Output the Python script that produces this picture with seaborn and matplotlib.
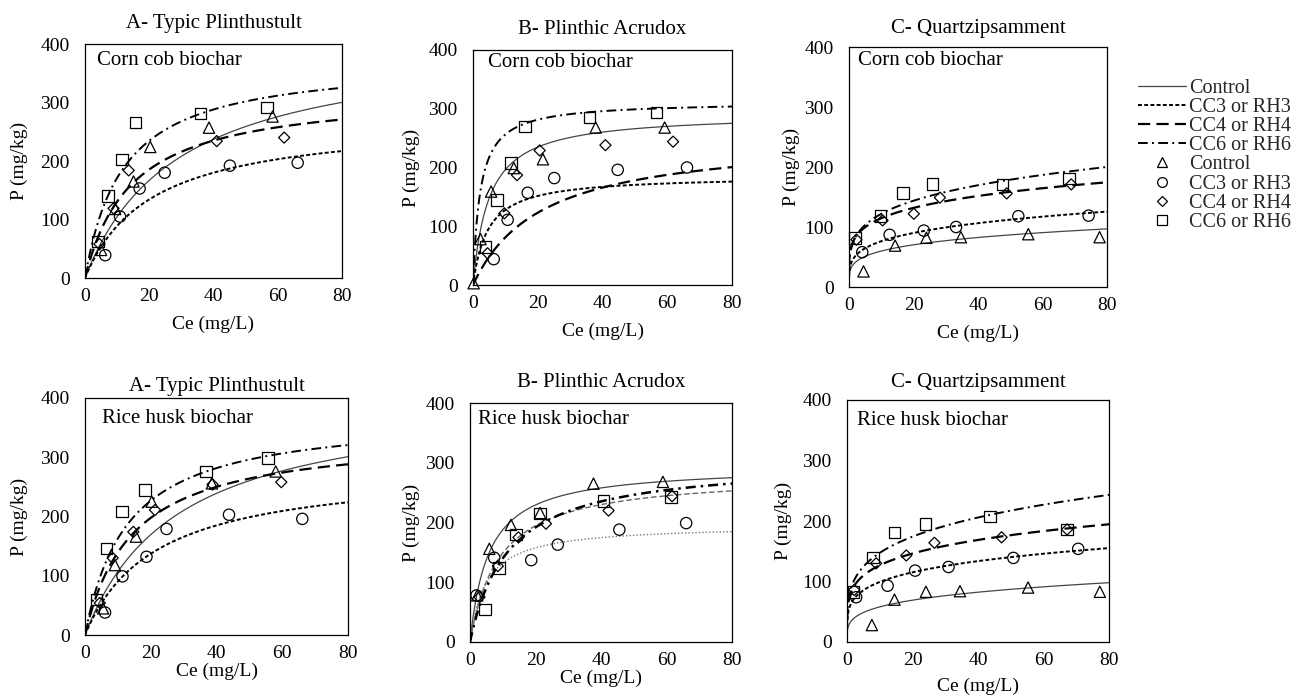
import numpy as np
import pandas as pd
import matplotlib
matplotlib.use("Agg")
import matplotlib.pyplot as plt
from matplotlib.lines import Line2D
import seaborn as sns

sns.set_theme(style="white")
plt.rcParams['font.family'] = ['Liberation Serif', 'DejaVu Serif']

# ---------------- data ----------------
treatments = ["Control", "CC3 or RH3", "CC4 or RH4", "CC6 or RH6"]
xticks = [0, 20, 40, 60, 80]
yticks = [0, 100, 200, 300, 400]

# A - Typic Plinthustult, corn cob biochar (observed points)
A_cc_ce = {"Control": [5, 9.4, 15.1, 20.3, 38.6, 58.4],
           "CC3 or RH3": [6.3, 10.9, 17, 24.8, 45.1, 66.2],
           "CC4 or RH4": [4.5, 8.9, 13.6, 41, 62],
           "CC6 or RH6": [4, 7.1, 11.5, 15.8, 36, 56.6]}
A_cc_p = {"Control": [48, 118, 165, 224, 257, 276],
          "CC3 or RH3": [39, 105, 153, 180, 192, 197],
          "CC4 or RH4": [58, 119, 184, 234, 240],
          "CC6 or RH6": [62, 140, 203, 266, 281, 291]}
# B - Plinthic Acrudox, corn cob biochar
B_cc_ce = {"Control": [0.2, 2.3, 5.6, 12.6, 21.6, 37.9, 59.2],
           "CC3 or RH3": [6.4, 10.7, 16.9, 25.1, 44.7, 66.1],
           "CC4 or RH4": [4.5, 9.7, 13.6, 20.6, 40.9, 61.8],
           "CC6 or RH6": [3.8, 7.4, 11.8, 16, 36, 56.6]}
B_cc_p = {"Control": [3, 78, 159, 199, 214, 268, 268],
          "CC3 or RH3": [44, 111, 157, 182, 196, 200],
          "CC4 or RH4": [54, 122, 187, 229, 238, 244],
          "CC6 or RH6": [65, 145, 208, 270, 285, 294]}
# C - Quartzipsamment, corn cob biochar
C_cc_ce = {"Control": [4.5, 14.3, 24, 34.7, 55.6, 77.7],
           "CC3 or RH3": [4.1, 12.6, 23.2, 33.2, 52.5, 74.3],
           "CC4 or RH4": [2.3, 10.4, 20.1, 28.2, 48.9, 68.9],
           "CC6 or RH6": [1.8, 9.7, 16.8, 25.9, 47.6, 68.2]}
C_cc_p = {"Control": [26, 69, 82, 83, 88, 83],
          "CC3 or RH3": [58, 87, 94, 100, 118, 119],
          "CC4 or RH4": [79, 111, 122, 149, 156, 171],
          "CC6 or RH6": [82, 118, 157, 172, 171, 181]}
# A - rice husk biochar
A_rh_ce = {"Control": [5.5, 9.1, 15.5, 20.3, 38.6, 58],
           "CC3 or RH3": [6.1, 11.4, 18.7, 24.8, 43.8, 66.1],
           "CC4 or RH4": [4.5, 8.4, 14.7, 21.3, 38.8, 59.7],
           "CC6 or RH6": [3.5, 6.6, 11.2, 18.2, 36.8, 55.7]}
A_rh_p = {"Control": [45, 118, 166, 225, 256, 276],
          "CC3 or RH3": [38, 99, 132, 179, 203, 196],
          "CC4 or RH4": [54, 130, 174, 211, 254, 258],
          "CC6 or RH6": [60, 146, 208, 245, 276, 299]}
# B - rice husk biochar
B_rh_ce = {"Control": [2.2, 5.9, 12.5, 21.4, 37.7, 58.9],
           "CC3 or RH3": [2, 7.4, 18.7, 26.8, 45.6, 66],
           "CC4 or RH4": [2.9, 8.5, 14.8, 23.2, 42.3, 61.7],
           "CC6 or RH6": [4.6, 8.9, 14.1, 21.4, 40.8, 61.4]}
B_rh_p = {"Control": [78, 156, 196, 216, 265, 268],
          "CC3 or RH3": [78, 141, 137, 163, 188, 199],
          "CC4 or RH4": [75, 127, 175, 198, 220, 244],
          "CC6 or RH6": [54, 124, 180, 215, 236, 243]}
# C - rice husk biochar
C_rh_ce = {"Control": [7.6, 14.5, 24.1, 34.5, 55.3, 77.2],
           "CC3 or RH3": [2.8, 12.4, 20.8, 31, 50.8, 70.6],
           "CC4 or RH4": [2.2, 8.9, 18.1, 26.7, 47.2, 67.2],
           "CC6 or RH6": [2, 7.9, 14.5, 23.9, 43.7, 67.2]}
C_rh_p = {"Control": [28, 70, 83, 84, 90, 83],
          "CC3 or RH3": [74, 93, 118, 124, 139, 154],
          "CC4 or RH4": [86, 130, 143, 164, 173, 186],
          "CC6 or RH6": [83, 140, 181, 195, 207, 186]}

# fitted isotherm parameters (Control, CC3, CC4, CC6)
A_cc_qmax = [409, 273, 320, 373];   A_cc_kl = [0.0345, 0.0484, 0.069, 0.0848]
B_cc_qmax = [292, 186, 254, 312];   B_cc_kl = [0.205, 0.22, 0.047, 0.46]
A_rh_qmax = [406, 284, 340, 372];   A_rh_kl = [0.0358, 0.0467, 0.0695, 0.078]
B_rh_qmax = [294.5, 196, 281, 304]; B_rh_kl = [0.176, 0.205, 0.1125, 0.0855]
C_cc_kf = [35.2, 43.9, 72.0, 70.5]; C_cc_inv_n = [0.231, 0.24, 0.202, 0.238]
C_rh_kf = [32.5, 60.5, 78.9, 84.6]; C_rh_inv_n = [0.252, 0.215, 0.206, 0.241]

titles = ["A- Typic Plinthustult", "B- Plinthic Acrudox", "C- Quartzipsamment"]
biochars = ["Corn cob biochar", "Rice husk biochar"]


def langmuir(c, qm, k):
    return qm * k * c / (1 + k * c)


def freundlich(c, kf, m):
    return kf * c ** m


# ---------------- styles ----------------
markers = {"Control": "^", "CC3 or RH3": "o", "CC4 or RH4": "D", "CC6 or RH6": "s"}
msize = {"Control": 66, "CC3 or RH3": 66, "CC4 or RH4": 32, "CC6 or RH6": 68}
line_style = {
    "Control": dict(color="#444444", linewidth=0.9, linestyle="-"),
    "CC3 or RH3": dict(color="black", linewidth=1.4, linestyle=(0, (2.0, 1.2))),
    "CC4 or RH4": dict(color="black", linewidth=1.6, linestyle=(0, (5.5, 2.8))),
    "CC6 or RH6": dict(color="black", linewidth=1.4, linestyle=(0, (5, 2.2, 1, 2.2))),
}
line_style_Brh = dict(line_style)
line_style_Brh["CC3 or RH3"] = dict(color="#777777", linewidth=1.0, linestyle=(0, (1, 1.5)))
line_style_Brh["CC4 or RH4"] = dict(color="#666666", linewidth=1.0, linestyle=(0, (4, 2)))
line_style_Brh["CC6 or RH6"] = dict(color="black", linewidth=1.8, linestyle=(0, (4, 2, 1, 2)))

W, H = 1297, 697
# panel boxes in pixels: left, right, top, bottom
boxes = [
    [(85, 342, 44, 278), (473, 732, 50, 285), (849, 1107, 47, 287)],
    [(85, 348, 398, 635), (470, 732, 403, 642), (847, 1109, 400, 642)],
]
title_off = [[21, 20, 19], [11, 21, 18]]
sub_pos = [[(0.047, 0.93), (0.058, 0.945), (0.035, 0.945)],
           [(0.065, 0.915), (0.03, 0.93), (0.038, 0.917)]]
xlab_off = [[48, 48, 48], [38, 38, 46]]
ylab_off = [[67, 63, 59], [67, 60, 65]]

panels = [
    [(A_cc_ce, A_cc_p, "L", A_cc_qmax, A_cc_kl),
     (B_cc_ce, B_cc_p, "L", B_cc_qmax, B_cc_kl),
     (C_cc_ce, C_cc_p, "F", C_cc_kf, C_cc_inv_n)],
    [(A_rh_ce, A_rh_p, "L", A_rh_qmax, A_rh_kl),
     (B_rh_ce, B_rh_p, "L", B_rh_qmax, B_rh_kl),
     (C_rh_ce, C_rh_p, "F", C_rh_kf, C_rh_inv_n)],
]

fig = plt.figure(figsize=(W / 100, H / 100), dpi=100)
fig.patch.set_facecolor("white")

cgrid = np.linspace(0.02, 80, 800)

for r in range(2):
    for c in range(3):
        l, rt, t, b = boxes[r][c]
        ax = fig.add_axes([l / W, 1 - b / H, (rt - l) / W, (b - t) / H])
        ce_d, p_d, model, p1, p2 = panels[r][c]
        styles = line_style_Brh if (r == 1 and c == 1) else line_style
        for i, tr in enumerate(treatments):
            if model == "L":
                xx = np.concatenate([[0.0], cgrid])
                yy = langmuir(xx, p1[i], p2[i])
            else:
                xx = cgrid
                yy = freundlich(cgrid, p1[i], p2[i])
            df_line = pd.DataFrame({"Ce": xx, "P": yy})
            sns.lineplot(data=df_line, x="Ce", y="P", ax=ax, errorbar=None,
                         sort=False, **styles[tr])
        for tr in treatments:
            df_pts = pd.DataFrame({"Ce": ce_d[tr], "P": p_d[tr]})
            sns.scatterplot(data=df_pts, x="Ce", y="P", ax=ax, marker=markers[tr],
                            s=msize[tr], color="none", edgecolor="black",
                            linewidth=0.9, zorder=3, clip_on=False)
        ax.set_xlim(0, 80)
        ax.set_ylim(0, 400)
        ax.set_xticks(xticks)
        ax.set_yticks(yticks)
        ax.tick_params(axis="both", length=0, labelsize=14, colors="black")
        ax.tick_params(axis="x", pad=7)
        ax.tick_params(axis="y", pad=11)
        for sp in ax.spines.values():
            sp.set_visible(True)
            sp.set_color("black")
            sp.set_linewidth(0.9)
        ax.grid(False)
        ax.set_facecolor("white")
        wpx, hpx = rt - l, b - t
        ax.set_xlabel("Ce (mg/L)", fontsize=14, color="black")
        ax.set_ylabel("P (mg/kg)", fontsize=14, color="black")
        ax.xaxis.set_label_coords(0.5, -(xlab_off[r][c] - 10) / hpx)
        ax.yaxis.set_label_coords(-(ylab_off[r][c] - 10) / wpx, 0.5)
        ax.text(0.5, 1 + title_off[r][c] / hpx, titles[c], transform=ax.transAxes,
                ha="center", va="center", fontsize=15, color="black")
        sx, sy = sub_pos[r][c]
        ax.text(sx, sy, biochars[r], transform=ax.transAxes,
                ha="left", va="center", fontsize=15, color="black")

# legend
handles = []
labels = []
for tr in treatments:
    st = line_style[tr]
    handles.append(Line2D([], [], color=st["color"], linewidth=st["linewidth"],
                          linestyle=st["linestyle"]))
    labels.append(tr)
for tr in treatments:
    handles.append(Line2D([], [], linestyle="none", marker=markers[tr],
                          markersize=7 if tr != "CC4 or RH4" else 5.5,
                          markerfacecolor="none", markeredgecolor="black",
                          markeredgewidth=0.9))
    labels.append(tr)
fig.legend(handles, labels, loc="upper left",
           bbox_to_anchor=(1138 / W, 1 - 79 / H), frameon=False,
           fontsize=14.5, handlelength=2.4, handletextpad=0.15,
           labelspacing=0.0, borderpad=0, borderaxespad=0)

fig.savefig("out.png", dpi=100, facecolor="white")
